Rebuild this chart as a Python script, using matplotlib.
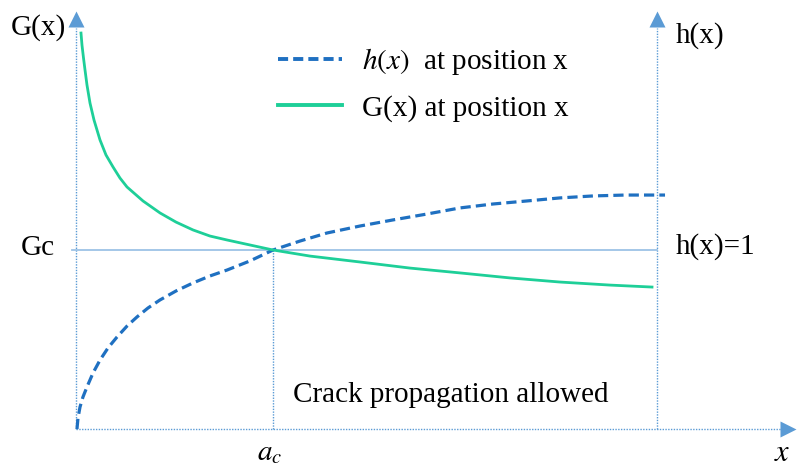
import matplotlib
matplotlib.use("Agg")
import matplotlib.pyplot as plt
from matplotlib.lines import Line2D

plt.rcParams['font.family'] = ['Liberation Serif', 'DejaVu Serif']
plt.rcParams['mathtext.fontset'] = 'stix'

# ---- data (x: 0 = left axis, 10 = right axis; y: 1 = Gc / h(x)=1) ----
g_x = [0.086, 0.103, 0.129, 0.155, 0.189, 0.241, 0.310, 0.413, 0.516, 0.637,
       0.757, 0.878, 1.153, 1.446, 1.721, 2.014, 2.306, 2.599, 2.995, 3.391,
       4.028, 4.888, 5.749, 6.609, 7.470, 8.330, 9.191, 9.914]
g_y = [2.212, 2.145, 2.073, 2.006, 1.922, 1.821, 1.726, 1.615, 1.531, 1.464,
       1.402, 1.352, 1.274, 1.207, 1.156, 1.112, 1.078, 1.056, 1.028, 1.0,
       0.966, 0.933, 0.899, 0.872, 0.844, 0.821, 0.804, 0.793]

h_x = [0.017, 0.034, 0.069, 0.120, 0.189, 0.293, 0.413, 0.551, 0.706, 0.878,
       1.050, 1.239, 1.446, 1.721, 2.014, 2.306, 2.599, 2.995, 3.391, 3.855,
       4.320, 4.888, 5.456, 6.041, 6.609, 7.177, 7.762, 8.330, 8.898, 9.449,
       10.0, 10.138]
h_y = [0.0, 0.061, 0.123, 0.179, 0.235, 0.313, 0.385, 0.453, 0.514, 0.575,
       0.626, 0.676, 0.721, 0.771, 0.816, 0.855, 0.888, 0.939, 1.0, 1.050,
       1.095, 1.134, 1.168, 1.201, 1.235, 1.257, 1.274, 1.291, 1.302, 1.307,
       1.307, 1.307]

a_c = 3.39
G_c = 1.0
x_right = 10.0
y_top = 2.29
x_end = 12.25

labels = ["$h(x)$  at position x", "G(x) at position x"]

# ---- figure ----
W, H = 797, 470
fig = plt.figure(figsize=(W / 100, H / 100), dpi=100)
ax = fig.add_axes([0, 0, 1, 1])
ax.set_axis_off()
px_x = 58.1   # px per x unit
px_y = 179.0  # px per y unit
x0_px, y0_px = 76, 429
ax.set_xlim(-x0_px / px_x, (W - x0_px) / px_x)
ax.set_ylim(-(H - y0_px) / px_y, y0_px / px_y)

axis_col = '#5B9BD5'
blue = '#1F70C1'
green = '#1ECF98'

# axes (dotted) with arrow heads
dot = (0, (1, 1.0))
ax.plot([0, 0], [0, y_top - 0.05], ls=dot, lw=1.0, color=axis_col)
ax.plot([x_right, x_right], [0, y_top - 0.05], ls=dot, lw=1.0, color=axis_col)
ax.plot([0, x_end - 0.1], [0, 0], ls=dot, lw=1.0, color=axis_col)
ax.plot([0], [y_top], marker='^', ms=11, color=axis_col, mec='none')
ax.plot([x_right], [y_top], marker='^', ms=11, color=axis_col, mec='none')
ax.plot([x_end], [0], marker='>', ms=11, color=axis_col, mec='none', clip_on=False)

# Gc horizontal and a_c vertical
ax.plot([-0.07, x_right], [G_c, G_c], color='#9DC3E6', lw=1.3)
ax.plot([a_c, a_c], [0, G_c], ls=dot, lw=1.0, color=axis_col)

# curves
ax.plot(h_x, h_y, color=blue, lw=2.3, ls=(0, (3.2, 1.6)))
ax.plot(g_x, g_y, color=green, lw=2.0)

# texts
fs = 21
ax.text(-1.12, 2.245, "G(x)", fontsize=fs, va='center', ha='left')
ax.text(10.33, 2.20, "h(x)", fontsize=fs, va='center', ha='left')
ax.text(-0.36, 1.01, "Gc", fontsize=fs, va='center', ha='right')
ax.text(10.33, 1.02, "h(x)=1", fontsize=fs, va='center', ha='left')
ax.text(a_c - 0.05, -0.135, "$a_c$", fontsize=fs, va='center', ha='center')
ax.text(12.15, -0.135, "$x$", fontsize=fs + 1, va='center', ha='center')
ax.text(3.73, 0.19, "Crack propagation allowed", fontsize=fs, va='center', ha='left')

# legend
handles = [Line2D([], [], color=blue, lw=2.8, ls=(0, (2.6, 1.3))),
           Line2D([], [], color=green, lw=2.8)]
ax.legend(handles, labels, loc='upper left', bbox_to_anchor=(278 / W, 1 - 46 / H),
          bbox_transform=fig.transFigure, frameon=False, fontsize=fs,
          handlelength=2.2, handletextpad=0.68, labelspacing=0.62, borderpad=0,
          borderaxespad=0)

fig.savefig("out.png", dpi=100)
